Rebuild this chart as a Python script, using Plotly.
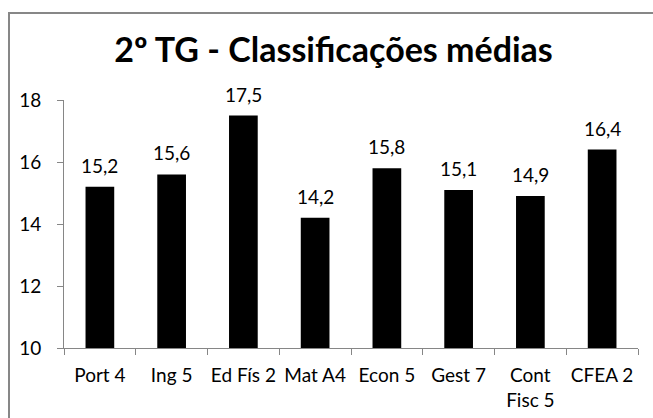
import plotly.graph_objects as go

categories = ["Port 4", "Ing 5", "Ed Fís 2", "Mat A4", "Econ 5", "Gest 7", "Cont<br>Fisc 5", "CFEA 2"]
values = [15.2, 15.6, 17.5, 14.2, 15.8, 15.1, 14.9, 16.4]
labels = [f"{v:.1f}".replace(".", ",") for v in values]
y_ticks = [10, 12, 14, 16, 18]

W, H = 653, 418
L, R, T, B = 64, 15, 100, 70
pw, ph = W - L - R, H - T - B
FONT = "Lato"

fig = go.Figure()
fig.add_trace(go.Bar(x=categories, y=values, marker=dict(color="black", line=dict(width=0)),
                     width=0.4, hoverinfo="skip"))

for c, v, t in zip(categories, values, labels):
    fig.add_annotation(x=c, y=v, text=t, showarrow=False, yanchor="bottom", yshift=8,
                       font=dict(family=FONT, size=19, color="#000"))

def px(x):
    return (x - L) / pw

def py(y):
    return (H - B - y) / ph

fig.add_shape(type="rect", xref="paper", yref="paper", x0=px(9), x1=px(680), y0=py(13), y1=py(440),
              line=dict(color="#878787", width=2), fillcolor="rgba(0,0,0,0)", layer="below")

fig.update_layout(
    width=W, height=H, margin=dict(l=L, r=R, t=T, b=B, autoexpand=False),
    paper_bgcolor="white", plot_bgcolor="white", showlegend=False,
    title=dict(text="<b>2º TG - Classificações médias</b>", x=333.5 / W, xanchor="center",
               y=1 - 50 / H, yanchor="middle", font=dict(family=FONT, size=34, color="#000")),
    font=dict(family=FONT, size=19, color="#000"),
    xaxis=dict(showline=True, linecolor="#868686", linewidth=1, ticks="outside", tickson="boundaries",
               ticklen=6, tickcolor="#868686", showgrid=False, tickfont=dict(size=19),
               automargin=False, ticklabelstandoff=10, tickangle=0),
    yaxis=dict(range=[10, 18], tickvals=y_ticks, showline=True, linecolor="#868686", linewidth=1,
               ticks="outside", ticklen=6, tickcolor="#868686", showgrid=False, zeroline=False,
               ticklabelstandoff=12, tickfont=dict(size=19), automargin=False),
)
fig.write_html("out.html", config={"displayModeBar": False, "staticPlot": True},
               post_script="document.body.style.margin='0';document.body.style.overflow='hidden';")
